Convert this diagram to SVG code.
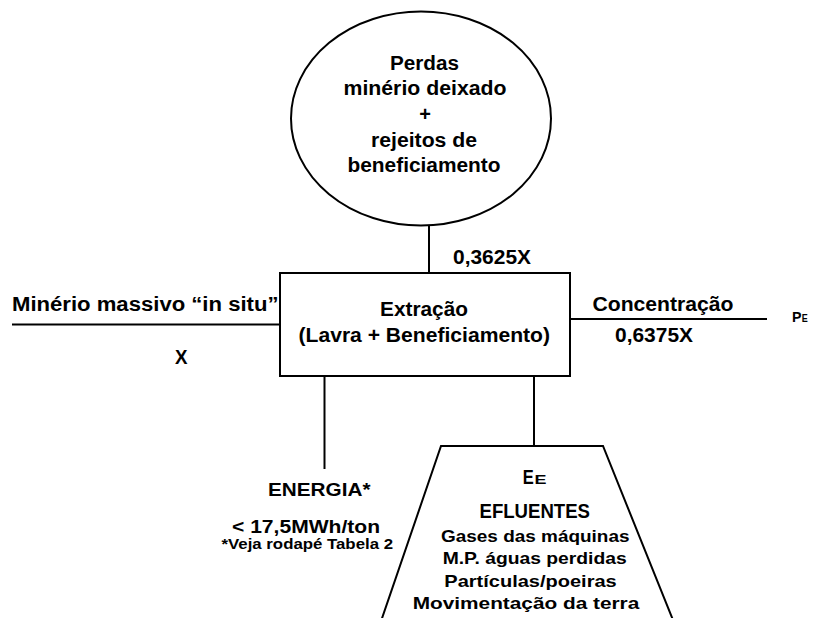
<svg xmlns="http://www.w3.org/2000/svg" width="815" height="618" viewBox="0 0 815 618">
<style>
text{font-family:"Liberation Sans",Arial,sans-serif;font-weight:bold;fill:#000}
.shape{fill:#fff;stroke:#000;stroke-width:2}
.conn{stroke:#000;stroke-width:2;fill:none}
</style>
<rect x="0" y="0" width="815" height="618" fill="#fff"/>
<g id="connectors">
<line class="conn" x1="429" y1="225" x2="429" y2="273"/>
<line class="conn" x1="12" y1="324.5" x2="280" y2="324.5"/>
<line class="conn" x1="570" y1="319" x2="767" y2="319"/>
<line class="conn" x1="324.5" y1="376" x2="324.5" y2="469"/>
<line class="conn" x1="534" y1="376" x2="534" y2="446"/>
</g>
<g id="perdas">
<ellipse class="shape" cx="421" cy="118.5" rx="130" ry="107"/>
<text x="390" y="69.5" font-size="20" textLength="69" lengthAdjust="spacingAndGlyphs">Perdas</text>
<text x="343.5" y="95" font-size="20" textLength="163" lengthAdjust="spacingAndGlyphs">minério deixado</text>
<text x="425" y="120.5" font-size="20" text-anchor="middle">+</text>
<text x="371" y="146.5" font-size="20" textLength="106" lengthAdjust="spacingAndGlyphs">rejeitos de</text>
<text x="347.5" y="171.5" font-size="20" textLength="153" lengthAdjust="spacingAndGlyphs">beneficiamento</text>
</g>
<g id="extracao">
<rect class="shape" x="280" y="273" width="290" height="103"/>
<text x="380" y="316" font-size="20" textLength="88" lengthAdjust="spacingAndGlyphs">Extração</text>
<text x="298.5" y="341.5" font-size="20" textLength="251.5" lengthAdjust="spacingAndGlyphs">(Lavra + Beneficiamento)</text>
</g>
<g id="labels">
<text x="453" y="263.5" font-size="19.5" textLength="78" lengthAdjust="spacingAndGlyphs">0,3625X</text>
<text x="12" y="310.7" font-size="19.5" textLength="266.5" lengthAdjust="spacingAndGlyphs">Minério  massivo  “in situ”</text>
<text x="175" y="364" font-size="19.5" textLength="12.5" lengthAdjust="spacingAndGlyphs">X</text>
<text x="592.5" y="310.7" font-size="19.5" textLength="141" lengthAdjust="spacingAndGlyphs">Concentração</text>
<text x="615" y="342.3" font-size="19.5" textLength="78" lengthAdjust="spacingAndGlyphs">0,6375X</text>
</g>
<g id="produto">
<text x="792" y="321.5" font-size="14" textLength="9.5" lengthAdjust="spacingAndGlyphs">P</text>
<text x="801.7" y="321.5" font-size="10" textLength="6" lengthAdjust="spacingAndGlyphs">E</text>
</g>
<g id="energia">
<text x="268" y="496" font-size="18.6" textLength="102.5" lengthAdjust="spacingAndGlyphs">ENERGIA*</text>
<text x="232" y="532.5" font-size="18.6" textLength="148" lengthAdjust="spacingAndGlyphs">&lt; 17,5MWh/ton</text>
<text x="221.5" y="549" font-size="14" textLength="171.5" lengthAdjust="spacingAndGlyphs">*Veja rodapé Tabela 2</text>
</g>
<g id="efluentes">
<polyline class="conn" points="378,630 441,446 603,446 677,630"/>
<text x="522.7" y="484" font-size="19.5" textLength="11" lengthAdjust="spacingAndGlyphs">E</text>
<text x="534.5" y="484" font-size="12" textLength="12" lengthAdjust="spacingAndGlyphs">E</text>
<text x="479.5" y="518.3" font-size="19.5" textLength="110.5" lengthAdjust="spacingAndGlyphs">EFLUENTES</text>
<text x="441" y="541.5" font-size="17" textLength="188.5" lengthAdjust="spacingAndGlyphs">Gases das máquinas</text>
<text x="442.7" y="564" font-size="17" textLength="184" lengthAdjust="spacingAndGlyphs">M.P. águas perdidas</text>
<text x="444.3" y="586.7" font-size="17" textLength="172.4" lengthAdjust="spacingAndGlyphs">Partículas/poeiras</text>
<text x="412.7" y="609" font-size="17" textLength="226.6" lengthAdjust="spacingAndGlyphs">Movimentação da terra</text>
</g>
</svg>
